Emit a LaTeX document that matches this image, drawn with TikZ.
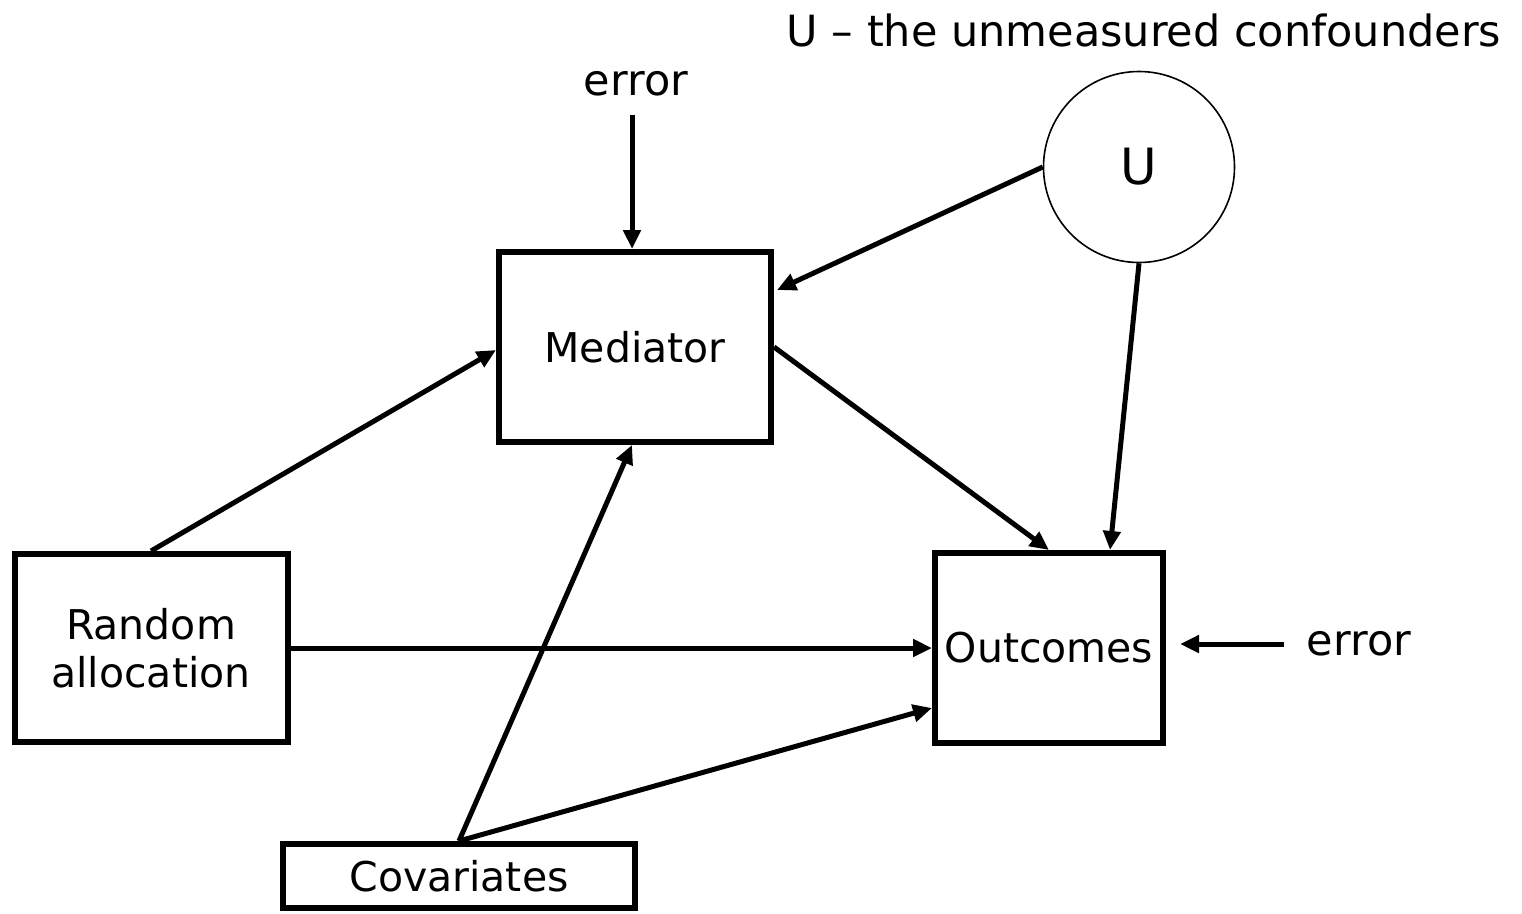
\documentclass[tikz,border=0pt]{standalone}
\usepackage{fontspec}
\setmainfont{DejaVu Sans}
\usetikzlibrary{arrows.meta}
\begin{document}
\begin{tikzpicture}[x=1pt,y=-1pt,
  box/.style={draw=black,line width=6pt,inner sep=0pt,fill=white,font=\fontsize{41}{48}\selectfont,align=center},
  lbl/.style={inner sep=0pt,font=\fontsize{43}{48}\selectfont},
  arr/.style={line width=5pt,-{Triangle[length=19pt,width=17pt]}}]
\useasboundingbox (0,0) rectangle (1522,913);
\node[box,minimum width=272pt,minimum height=190pt] (med) at (635,347) {Mediator};
\node[box,minimum width=273pt,minimum height=188pt] (ra) at (151,648) {Random\\allocation};
\node[box,minimum width=228pt,minimum height=190pt] (out) at (1049,648) {Outcomes};
\node[box,minimum width=352pt,minimum height=64pt] (cov) at (459,876) {Covariates};
\node[draw=black,line width=1.6pt,circle,minimum size=191pt,inner sep=0pt,font=\fontsize{50}{56}\selectfont] (u) at (1139,167) {U};
\node[lbl] (utxt) at (1144,30) {U – the unmeasured confounders};
\node[lbl] (err1) at (636,84) {error};
\node[lbl] (err2) at (1359,644) {error};
\coordinate (e1s) at (632,115);
\coordinate (e2s) at (1284,644);
\draw[arr] (e1s) -- ([xshift=-3pt]med.north);
\draw[arr] (e2s) -- ([xshift=14pt,yshift=4pt]out.east);
\draw[arr] (ra.north) -- ([yshift=-3pt]med.west);
\draw[arr] (ra.east) -- (out.west);
\draw[arr] (cov.north) -- ([xshift=-3pt]med.south);
\draw[arr] (cov.north) -- ([yshift=-60pt]out.west);
\draw[arr] (med.east) -- (out.north);
\draw[arr] (u.west) -- ([yshift=57pt,xshift=3pt]med.east);
\draw[arr] (u.south) -- ([xshift=61pt]out.north);
\end{tikzpicture}
\end{document}
